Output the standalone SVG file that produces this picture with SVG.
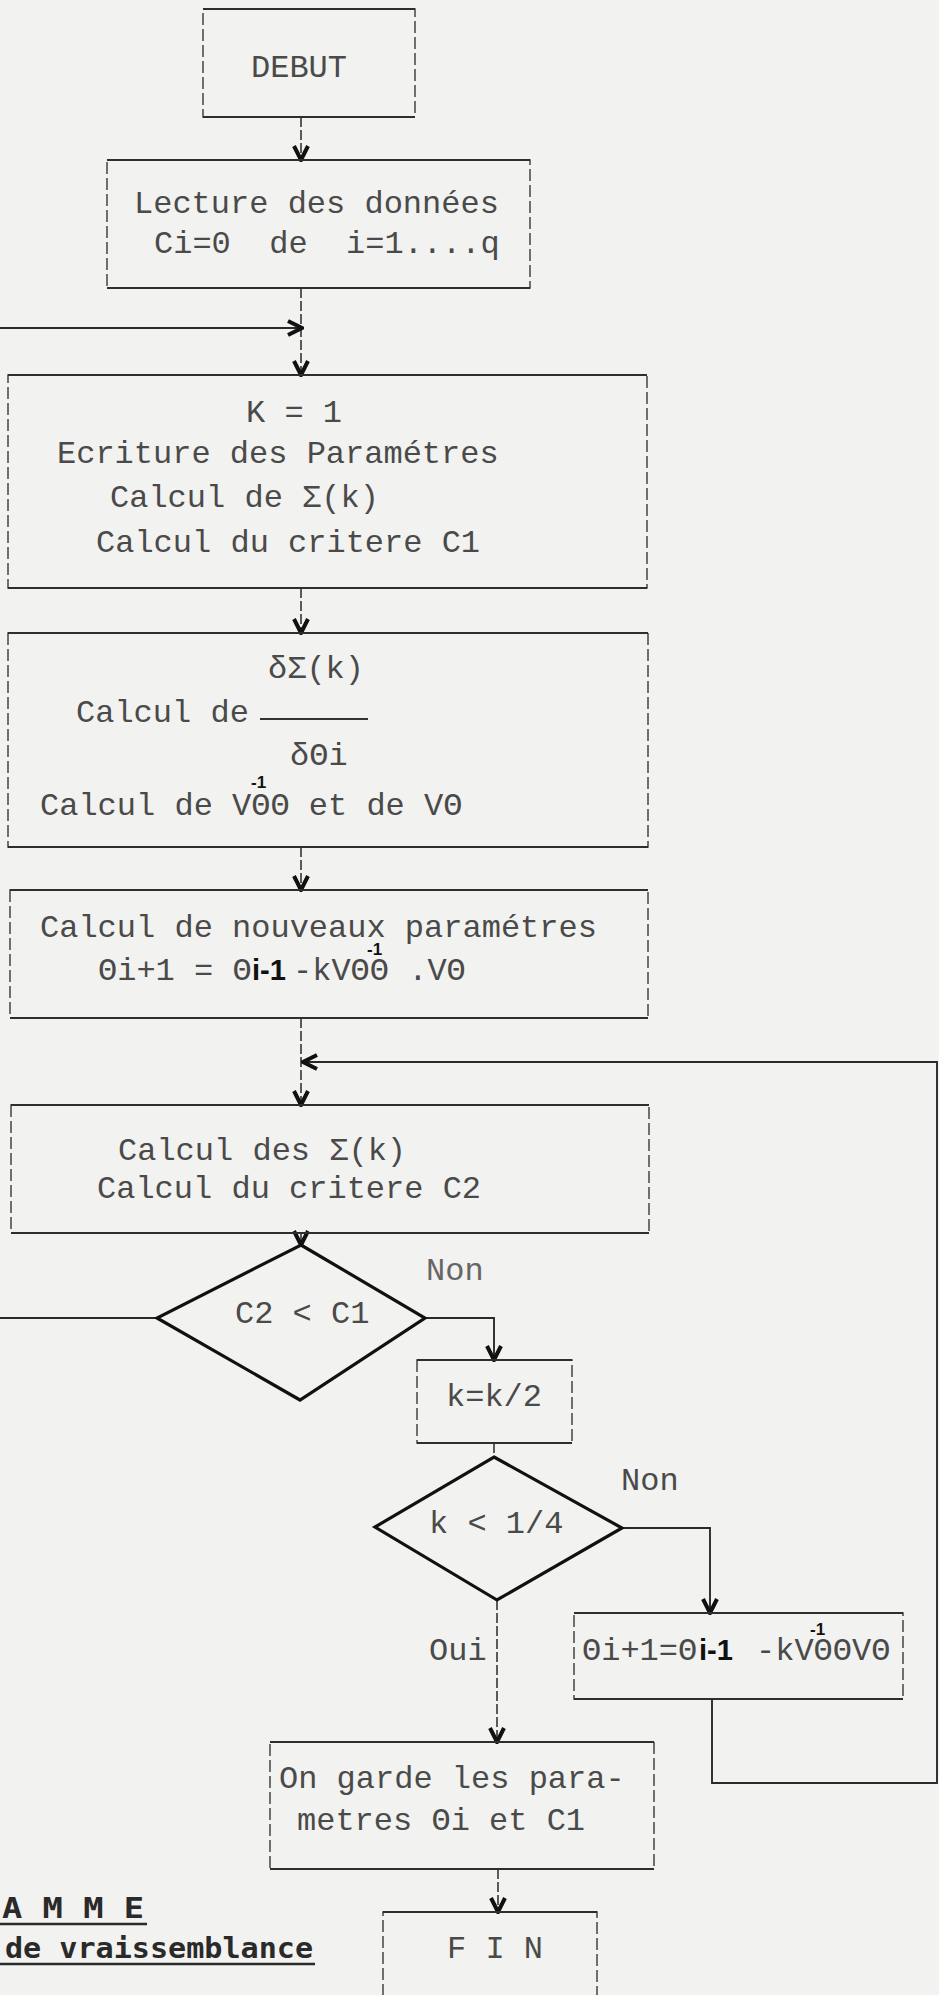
<svg xmlns="http://www.w3.org/2000/svg" width="939" height="1995" viewBox="0 0 939 1995">
<defs>
<style>
.bg{fill:#f2f2f0}
.box{fill:none;stroke:#444;stroke-width:1.5;stroke-dasharray:12 4}
.edge{fill:none;stroke:#2e2e2e;stroke-width:2.2}
.dia{fill:none;stroke:#111;stroke-width:3.2;stroke-linejoin:miter}
.c{fill:none;stroke:#2a2a2a;stroke-width:1.9}
.cv{fill:none;stroke:#2a2a2a;stroke-width:1.5;stroke-dasharray:10 3}
.t{font-family:"Liberation Mono","DejaVu Sans Mono",monospace;font-size:32px;fill:#4a4a4a}
.sup{font-family:"Liberation Sans",Arial,sans-serif;font-weight:bold;font-size:17px;fill:#111}
.blob{font-family:"Liberation Sans",Arial,sans-serif;font-weight:bold;font-size:30px;fill:#111}
.ttl{font-family:"DejaVu Sans Mono","Liberation Mono",monospace;font-weight:bold;font-size:28px;fill:#2a2a2a}
.ul{stroke:#2a2a2a;stroke-width:2.5}
</style>
<marker id="ah" viewBox="-16 -9 18 18" markerWidth="18" markerHeight="18" refX="0" refY="0" orient="auto" markerUnits="userSpaceOnUse">
<path d="M -14 -7 L 0 0 L -14 7" fill="none" stroke="#111" stroke-width="4"/>
</marker>
</defs>
<rect class="bg" x="0" y="0" width="939" height="1995"/>

<g id="connectors">
<path class="cv" d="M301 117 V160" marker-end="url(#ah)"/>
<path class="cv" d="M301 288 V375" marker-end="url(#ah)"/>
<path class="c" d="M0 328 H302" marker-end="url(#ah)"/>
<path class="cv" d="M301 588 V633" marker-end="url(#ah)"/>
<path class="cv" d="M301 847 V890" marker-end="url(#ah)"/>
<path class="cv" d="M301 1018 V1105" marker-end="url(#ah)"/>
<path class="c" d="M712 1699 V1783 H937 V1062 H303" marker-end="url(#ah)"/>
<path class="cv" d="M301 1233 V1245" marker-end="url(#ah)"/>
<path class="c" d="M157 1318 H0"/>
<path class="c" d="M425 1318 H494 V1360" marker-end="url(#ah)"/>
<path class="cv" d="M494 1443 V1457"/>
<path class="c" d="M622 1528 H710 V1613" marker-end="url(#ah)"/>
<path class="cv" d="M497 1600 V1742" marker-end="url(#ah)"/>
<path class="cv" d="M498 1869 V1912" marker-end="url(#ah)"/>
</g>

<g id="debut">
<rect class="box" x="203" y="9" width="212" height="108"/>
<path class="edge" d="M203 9 H415 M203 117 H415"/>
<text class="t" x="299" y="77" text-anchor="middle">DEBUT</text>
</g>

<g id="lecture">
<rect class="box" x="107" y="160" width="423" height="128"/>
<path class="edge" d="M107 160 H530 M107 288 H530"/>
<text class="t" x="134" y="213">Lecture des données</text>
<text class="t" x="154" y="253" xml:space="preserve">Ci=0  de  i=1....q</text>
</g>

<g id="init">
<rect class="box" x="8" y="375" width="639" height="213"/>
<path class="edge" d="M8 375 H647 M8 588 H647"/>
<text class="t" x="246" y="422">K = 1</text>
<text class="t" x="57" y="463">Ecriture des Paramétres</text>
<text class="t" x="110" y="507">Calcul de Σ(k)</text>
<text class="t" x="96" y="552">Calcul du critere C1</text>
</g>

<g id="derivees">
<rect class="box" x="8" y="633" width="640" height="214"/>
<path class="edge" d="M8 633 H648 M8 847 H648"/>
<text class="t" x="268" y="678">δΣ(k)</text>
<text class="t" x="76" y="722">Calcul de</text>
<line x1="260" y1="719" x2="368" y2="719" stroke="#333" stroke-width="2"/>
<text class="t" x="290" y="765">δΘi</text>
<text class="t" x="40" y="815">Calcul de V<tspan class="sup" x="251" y="788">-1</tspan><tspan x="251.2" y="815">ΘΘ et de VΘ</tspan></text>
</g>

<g id="nouveaux">
<rect class="box" x="10" y="890" width="638" height="128"/>
<path class="edge" d="M10 890 H648 M10 1018 H648"/>
<text class="t" x="40" y="937">Calcul de nouveaux paramétres</text>
<text class="t" x="98" y="980">Θi+1 = Θ<tspan class="blob" x="252" textLength="34" lengthAdjust="spacingAndGlyphs">i-1</tspan><tspan x="293">-kV</tspan><tspan class="sup" x="367" y="955">-1</tspan><tspan x="350.6" y="980">ΘΘ .VΘ</tspan></text>
</g>

<g id="critere2">
<rect class="box" x="11" y="1105" width="638" height="128"/>
<path class="edge" d="M11 1105 H649 M11 1233 H649"/>
<text class="t" x="118" y="1160">Calcul des Σ(k)</text>
<text class="t" x="97" y="1198">Calcul du critere C2</text>
</g>

<g id="test1">
<polygon class="dia" points="301,1245 425,1318 300,1400 157,1318"/>
<text class="t" x="235" y="1323">C2 &lt; C1</text>
<text class="t" x="426" y="1280" style="fill:#666">Non</text>
</g>

<g id="demi">
<rect class="box" x="417" y="1360" width="155" height="83"/>
<path class="edge" d="M417 1360 H572 M417 1443 H572"/>
<text class="t" x="446" y="1406">k=k/2</text>
</g>

<g id="test2">
<polygon class="dia" points="494,1457 622,1528 497,1600 375,1527"/>
<text class="t" x="429" y="1533">k &lt; 1/4</text>
<text class="t" x="621" y="1490">Non</text>
<text class="t" x="429" y="1660">Oui</text>
</g>

<g id="maj">
<rect class="box" x="574" y="1613" width="329" height="86"/>
<path class="edge" d="M574 1613 H903 M574 1699 H903"/>
<text class="t" x="582" y="1660">Θi+1=Θ<tspan class="blob" x="699" textLength="34" lengthAdjust="spacingAndGlyphs">i-1</tspan><tspan x="756">-kV</tspan><tspan class="sup" x="810" y="1635">-1</tspan><tspan x="813.6" y="1660">ΘΘVΘ</tspan></text>
</g>

<g id="garde">
<rect class="box" x="270" y="1742" width="384" height="127"/>
<path class="edge" d="M270 1742 H654 M270 1869 H654"/>
<text class="t" x="279" y="1788">On garde les para-</text>
<text class="t" x="297" y="1830">metres Θi et C1</text>
</g>

<g id="fin">
<rect class="box" x="383" y="1912" width="214" height="100"/>
<path class="edge" d="M383 1912 H597"/>
<text class="t" x="447" y="1958">F I N</text>
</g>

<g id="titre">
<text class="ttl" x="2" y="1918" textLength="142" lengthAdjust="spacingAndGlyphs">A M M E</text>
<line class="ul" x1="0" y1="1924" x2="147" y2="1924"/>
<text class="ttl" x="5" y="1958" textLength="308" lengthAdjust="spacingAndGlyphs">de vraissemblance</text>
<line class="ul" x1="0" y1="1964" x2="315" y2="1964"/>
</g>
</svg>
